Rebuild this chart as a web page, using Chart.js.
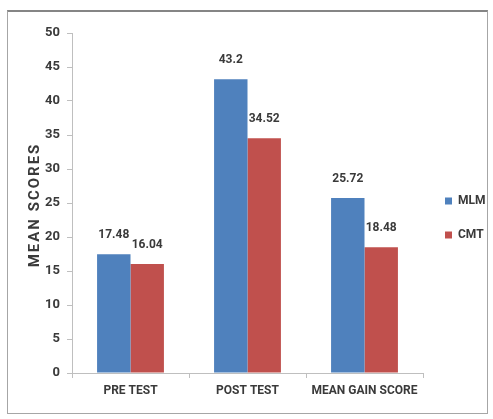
<!DOCTYPE html>
<html>
<head>
<meta charset="utf-8">
<script src="https://cdn.jsdelivr.net/npm/chart.js@4/dist/chart.umd.min.js"></script>
<style>
  html, body { margin: 0; padding: 0; background: #ffffff; }
  #wrap { position: relative; width: 493px; height: 419px; }
  #frame {
    position: absolute; left: 7px; top: 10px; width: 481px; height: 404px;
    border: 1px solid #a6a6a6; border-top: 2px solid #858585;
    pointer-events: none; box-sizing: border-box;
  }
  canvas { display: block; }
</style>
</head>
<body>
<div id="wrap">
  <canvas id="chart" width="493" height="419"></canvas>
  <div id="frame"></div>
</div>
<script>
// Test phases on the x axis
const categories = ['PRE TEST', 'POST TEST', 'MEAN GAIN SCORE'];
// Mean scores per teaching method
const mlmScores = [17.48, 43.2, 25.72];
const cmtScores = [16.04, 34.52, 18.48];
const seriesNames = ['MLM', 'CMT'];
const yTicks = [0, 5, 10, 15, 20, 25, 30, 35, 40, 45, 50];
const yTitle = 'MEAN SCORES';

const textColor = '#3a3a3a';
const fontFamily = 'Roboto, "Liberation Sans", sans-serif';

// Writes each bar's value just above the bar
const valueLabels = {
  id: 'valueLabels',
  afterDatasetsDraw(chart) {
    const ctx = chart.ctx;
    ctx.save();
    ctx.font = 'bold 12px ' + fontFamily;
    ctx.fillStyle = textColor;
    ctx.textAlign = 'center';
    ctx.textBaseline = 'middle';
    chart.data.datasets.forEach((ds, di) => {
      const meta = chart.getDatasetMeta(di);
      meta.data.forEach((bar, i) => {
        ctx.fillText(String(ds.data[i]), bar.x, bar.y - 19);
      });
    });
    ctx.restore();
  }
};

// Rotated, letter-spaced title beside the value axis
const spacedAxisTitle = {
  id: 'spacedAxisTitle',
  afterDraw(chart) {
    const ctx = chart.ctx;
    const yScale = chart.scales.y;
    const area = chart.chartArea;
    ctx.save();
    ctx.font = 'bold 15px ' + fontFamily;
    ctx.fillStyle = textColor;
    ctx.textAlign = 'center';
    ctx.textBaseline = 'middle';
    if ('letterSpacing' in ctx) ctx.letterSpacing = '2px';
    ctx.translate(yScale.left + 27, (area.top + area.bottom) / 2 + 3);
    ctx.rotate(-Math.PI / 2);
    ctx.fillText(yTitle, 1, 0);
    ctx.restore();
  }
};

new Chart(document.getElementById('chart'), {
  type: 'bar',
  data: {
    labels: categories,
    datasets: [
      { label: seriesNames[0], data: mlmScores, backgroundColor: '#4f81bd', borderWidth: 0 },
      { label: seriesNames[1], data: cmtScores, backgroundColor: '#c0504d', borderWidth: 0 }
    ]
  },
  options: {
    responsive: false,
    animation: false,
    events: [],
    layout: { padding: { left: 8, top: 33, right: 0, bottom: 16 } },
    datasets: {
      bar: { categoryPercentage: 2 / 3.5, barPercentage: 1 }
    },
    plugins: {
      tooltip: { enabled: false },
      legend: {
        position: 'right',
        maxWidth: 70,
        labels: {
          boxWidth: 7,
          boxHeight: 7,
          padding: 22,
          color: textColor,
          font: { family: fontFamily, size: 12, weight: 'bold' }
        }
      }
    },
    scales: {
      x: {
        offset: true,
        grid: {
          offset: true,
          drawOnChartArea: false,
          drawTicks: true,
          tickLength: 5,
          color: '#bfbfbf'
        },
        border: { color: '#bfbfbf' },
        ticks: {
          color: textColor,
          padding: 6,
          maxRotation: 0,
          font: { family: fontFamily, size: 12, weight: 'bold' }
        },
        afterFit(scale) { scale.height = 30; }
      },
      y: {
        min: 0,
        max: 50,
        afterBuildTicks(scale) { scale.ticks = yTicks.map(v => ({ value: v })); },
        grid: {
          drawOnChartArea: false,
          drawTicks: true,
          tickLength: 5,
          color: '#bfbfbf'
        },
        border: { color: '#bfbfbf' },
        ticks: {
          color: textColor,
          padding: 7,
          font: { family: fontFamily, size: 13, weight: 'bold' }
        },
        afterFit(scale) { scale.width = 64; }
      }
    }
  },
  plugins: [valueLabels, spacedAxisTitle]
});
</script>
</body>
</html>
